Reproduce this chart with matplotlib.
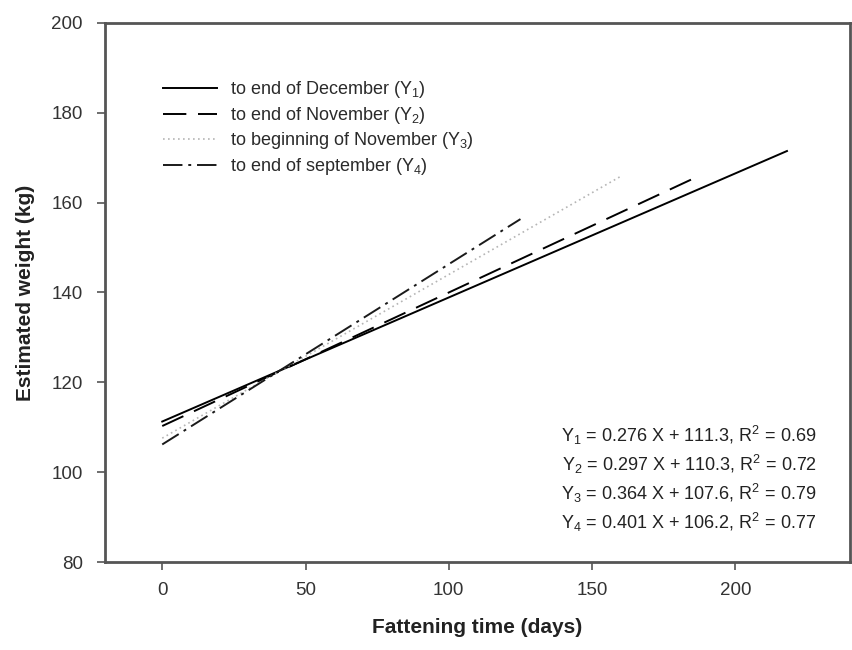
import numpy as np
import matplotlib
matplotlib.use("Agg")
import matplotlib.pyplot as plt

plt.rcParams['font.family'] = ['Liberation Sans', 'DejaVu Sans']
plt.rcParams['mathtext.fontset'] = 'custom'
plt.rcParams['mathtext.rm'] = 'Liberation Sans'
plt.rcParams['mathtext.it'] = 'Liberation Sans'

# regression lines
labels = ['to end of December (Y$_1$)', 'to end of November (Y$_2$)',
          'to beginning of November (Y$_3$)', 'to end of september (Y$_4$)']
slopes = [0.276, 0.297, 0.364, 0.401]
intercepts = [111.3, 110.3, 107.6, 106.2]
r2 = [0.69, 0.72, 0.79, 0.77]
x_start = [0, 0, 0, 0]
x_end = [218, 187, 160, 125]

styles = [
    dict(color='black', linestyle='-', linewidth=1.4),
    dict(color='black', linestyle=(0, (12, 6)), linewidth=1.4),
    dict(color='#b5b5b5', linestyle=(0, (1, 2)), linewidth=1.2),
    dict(color='#1a1a1a', linestyle=(0, (10, 3, 1.5, 3)), linewidth=1.4),
]

fig = plt.figure(figsize=(8.53, 6.5), dpi=100)
ax = fig.add_axes([0.123, 0.135, 0.8735, 0.83])

for i in range(4):
    xs = np.array([x_start[i], x_end[i]])
    ys = slopes[i] * xs + intercepts[i]
    ax.plot(xs, ys, label=labels[i], **styles[i])

ax.set_xlim(-20, 240)
ax.set_ylim(80, 200)
ax.set_xticks([0, 50, 100, 150, 200])
ax.set_yticks([80, 100, 120, 140, 160, 180, 200])

for s in ax.spines.values():
    s.set_color('#555555')
    s.set_linewidth(2)
ax.tick_params(direction='out', length=6, width=1.2, color='#555555',
               labelsize=13.5, labelcolor='#333333')
ax.tick_params(axis='x', pad=8)
ax.tick_params(axis='y', pad=10)

ax.set_xlabel('Fattening time (days)', fontsize=15, fontweight='bold',
              color='#222222', labelpad=14)
ax.set_ylabel('Estimated weight (kg)', fontsize=15, fontweight='bold',
              color='#222222', labelpad=12)

leg = ax.legend(loc='upper left', bbox_to_anchor=(0.078, 0.895), frameon=False,
                fontsize=13, handlelength=3.0, labelspacing=0.25,
                handletextpad=0.7, borderpad=0, borderaxespad=0)
for t in leg.get_texts():
    t.set_color('#2a2a2a')

for i in range(4):
    eq = 'Y$_%d$ = %.3f X + %.1f, R$^2$ = %.2f' % (i + 1, slopes[i], intercepts[i], r2[i])
    ax.text(0.955, 0.24 - i * 0.0537, eq, transform=ax.transAxes,
            ha='right', va='center_baseline', fontsize=13, color='#222222')

fig.savefig('out.png', dpi=100)
